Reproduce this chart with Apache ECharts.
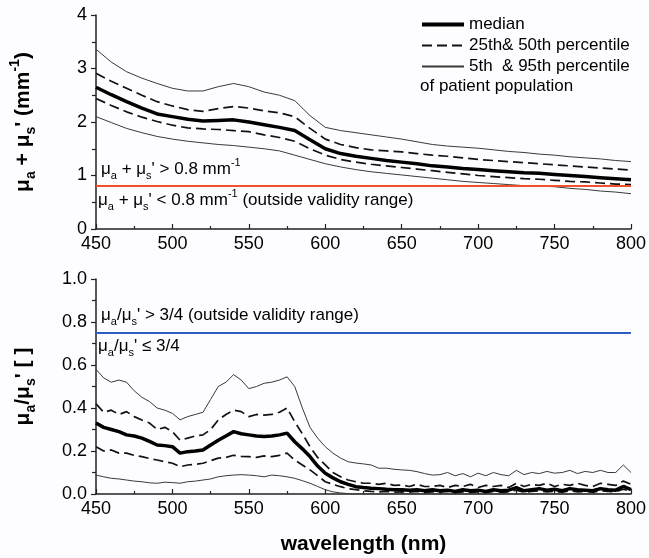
<!DOCTYPE html>
<html>
<head>
<meta charset="utf-8">
<script src="https://cdn.jsdelivr.net/npm/echarts@6/dist/echarts.min.js"></script>
<style>
html, body { margin: 0; padding: 0; background: #fdfdff; }
#main { width: 649px; height: 558px; }
</style>
</head>
<body>
<div id="main"></div>
<script>
// wavelength grids (nm)
var topStart = 450, topStep = 10
var botStart = 450, botStep = 5

// top panel: mu_a + mu_s' (mm^-1), 450..800 every 10 nm
var topP95 = [3.36, 3.12, 2.94, 2.82, 2.72, 2.63, 2.58, 2.58, 2.66, 2.72, 2.66, 2.56, 2.50, 2.40, 2.12, 1.90, 1.84, 1.80, 1.76, 1.72, 1.68, 1.63, 1.58, 1.55, 1.53, 1.51, 1.48, 1.45, 1.43, 1.40, 1.38, 1.35, 1.33, 1.31, 1.28, 1.26]
var topP75 = [2.91, 2.76, 2.63, 2.50, 2.38, 2.30, 2.23, 2.20, 2.25, 2.29, 2.26, 2.21, 2.17, 2.10, 1.88, 1.68, 1.58, 1.52, 1.48, 1.46, 1.44, 1.41, 1.38, 1.36, 1.33, 1.30, 1.28, 1.26, 1.24, 1.22, 1.20, 1.18, 1.16, 1.14, 1.12, 1.10]
var topMed = [2.65, 2.51, 2.38, 2.26, 2.15, 2.10, 2.05, 2.02, 2.03, 2.04, 2.00, 1.95, 1.90, 1.84, 1.67, 1.50, 1.41, 1.36, 1.32, 1.28, 1.25, 1.22, 1.18, 1.16, 1.13, 1.11, 1.09, 1.07, 1.05, 1.04, 1.02, 1.00, 0.98, 0.96, 0.94, 0.92]
var topP25 = [2.44, 2.31, 2.19, 2.09, 2.01, 1.94, 1.89, 1.87, 1.86, 1.84, 1.82, 1.76, 1.71, 1.64, 1.50, 1.38, 1.30, 1.25, 1.21, 1.18, 1.15, 1.12, 1.09, 1.06, 1.03, 1.00, 0.98, 0.96, 0.94, 0.93, 0.91, 0.89, 0.88, 0.86, 0.84, 0.83]
var topP5 = [2.10, 1.99, 1.88, 1.80, 1.73, 1.68, 1.64, 1.61, 1.58, 1.56, 1.53, 1.50, 1.46, 1.38, 1.30, 1.22, 1.16, 1.11, 1.07, 1.04, 1.01, 0.98, 0.95, 0.92, 0.89, 0.87, 0.85, 0.83, 0.81, 0.80, 0.79, 0.76, 0.74, 0.71, 0.69, 0.66]

// bottom panel: mu_a / mu_s', 450..800 every 5 nm
var botP95 = [0.58, 0.54, 0.52, 0.53, 0.52, 0.48, 0.45, 0.43, 0.40, 0.39, 0.375, 0.345, 0.36, 0.37, 0.38, 0.44, 0.50, 0.52, 0.555, 0.53, 0.49, 0.50, 0.515, 0.52, 0.53, 0.545, 0.50, 0.40, 0.31, 0.26, 0.22, 0.19, 0.167, 0.15, 0.144, 0.14, 0.135, 0.12, 0.12, 0.115, 0.112, 0.11, 0.104, 0.095, 0.088, 0.09, 0.10, 0.085, 0.095, 0.08, 0.097, 0.085, 0.10, 0.09, 0.085, 0.11, 0.09, 0.10, 0.095, 0.105, 0.097, 0.10, 0.11, 0.095, 0.105, 0.10, 0.11, 0.10, 0.10, 0.135, 0.10]
var botP75 = [0.42, 0.38, 0.39, 0.37, 0.383, 0.36, 0.344, 0.33, 0.30, 0.31, 0.29, 0.25, 0.26, 0.27, 0.275, 0.30, 0.344, 0.37, 0.39, 0.383, 0.36, 0.37, 0.367, 0.37, 0.38, 0.40, 0.336, 0.28, 0.22, 0.17, 0.135, 0.10, 0.08, 0.065, 0.057, 0.05, 0.05, 0.045, 0.05, 0.04, 0.042, 0.035, 0.045, 0.035, 0.035, 0.04, 0.03, 0.04, 0.035, 0.045, 0.03, 0.04, 0.035, 0.04, 0.03, 0.05, 0.035, 0.045, 0.04, 0.05, 0.035, 0.045, 0.04, 0.05, 0.04, 0.035, 0.05, 0.045, 0.04, 0.06, 0.045]
var botMed = [0.33, 0.31, 0.30, 0.29, 0.275, 0.27, 0.26, 0.245, 0.228, 0.225, 0.22, 0.19, 0.197, 0.20, 0.205, 0.228, 0.25, 0.27, 0.29, 0.28, 0.275, 0.27, 0.267, 0.27, 0.275, 0.283, 0.243, 0.21, 0.174, 0.13, 0.096, 0.075, 0.057, 0.045, 0.034, 0.03, 0.027, 0.025, 0.022, 0.02, 0.02, 0.018, 0.02, 0.015, 0.02, 0.015, 0.018, 0.012, 0.02, 0.015, 0.018, 0.012, 0.02, 0.015, 0.018, 0.03, 0.015, 0.02, 0.025, 0.018, 0.022, 0.015, 0.025, 0.02, 0.018, 0.015, 0.025, 0.02, 0.018, 0.035, 0.02]
var botP25 = [0.22, 0.20, 0.205, 0.19, 0.19, 0.18, 0.174, 0.165, 0.158, 0.15, 0.143, 0.127, 0.135, 0.138, 0.143, 0.155, 0.167, 0.17, 0.18, 0.175, 0.174, 0.17, 0.177, 0.174, 0.18, 0.19, 0.158, 0.135, 0.112, 0.085, 0.057, 0.045, 0.034, 0.025, 0.02, 0.015, 0.012, 0.01, 0.012, 0.008, 0.01, 0.008, 0.012, 0.006, 0.01, 0.008, 0.012, 0.006, 0.01, 0.008, 0.01, 0.006, 0.012, 0.008, 0.01, 0.018, 0.008, 0.012, 0.015, 0.01, 0.012, 0.008, 0.015, 0.01, 0.012, 0.008, 0.015, 0.012, 0.01, 0.022, 0.012]
var botP5 = [0.088, 0.08, 0.073, 0.07, 0.065, 0.06, 0.057, 0.052, 0.05, 0.055, 0.053, 0.05, 0.057, 0.06, 0.065, 0.07, 0.08, 0.085, 0.088, 0.09, 0.088, 0.085, 0.08, 0.088, 0.085, 0.08, 0.073, 0.062, 0.05, 0.035, 0.02, 0.01, 0.005, 0.002, 0, 0, 0, 0, 0, 0, 0, 0, 0, 0, 0, 0, 0, 0, 0, 0, 0, 0, 0, 0, 0, 0, 0, 0, 0, 0, 0, 0, 0, 0, 0, 0, 0, 0, 0, 0, 0]

// thresholds
var topLimit = 0.8
var botLimit = 0.75

var legendNames = ['median', '25th& 50th percentile', '5th  & 95th percentile']

function pairs (start, step, vals) {
  return vals.map(function (v, i) { return [start + i * step, v] })
}

var subRich = {
  s: { fontSize: 11, verticalAlign: 'bottom', lineHeight: 11, color: '#000' },
  p: { fontSize: 11, verticalAlign: 'top', lineHeight: 11, color: '#000' }
}
var subRichBold = {
  s: { fontSize: 14, fontWeight: 'bold', verticalAlign: 'bottom', lineHeight: 14, color: '#000' },
  p: { fontSize: 14, fontWeight: 'bold', verticalAlign: 'top', lineHeight: 14, color: '#000' }
}

var FONT = 'Liberation Sans, Arial, sans-serif'

function makeSeries (idx, start, step, p95, p75, med, p25, p5, limit, color, txtAbove, txtBelow) {
  var thin = { color: '#3a3a3a', width: 1 }
  var dash = { color: '#111', width: 1.7, type: [10, 5] }
  var common = { type: 'line', xAxisIndex: idx, yAxisIndex: idx, symbol: 'none', animation: false, silent: true }
  return [
    Object.assign({}, common, { name: legendNames[2], data: pairs(start, step, p95), lineStyle: thin, itemStyle: { color: '#3a3a3a' } }),
    Object.assign({}, common, { name: legendNames[1], data: pairs(start, step, p75), lineStyle: dash, itemStyle: { color: '#111' } }),
    Object.assign({}, common, { name: legendNames[1], data: pairs(start, step, p25), lineStyle: dash, itemStyle: { color: '#111' } }),
    Object.assign({}, common, { name: legendNames[2], data: pairs(start, step, p5), lineStyle: thin, itemStyle: { color: '#3a3a3a' } }),
    Object.assign({}, common, {
      name: legendNames[0],
      data: pairs(start, step, med),
      lineStyle: { color: '#000', width: 3.5 },
      itemStyle: { color: '#000' },
      z: 3,
      markLine: {
        symbol: 'none',
        silent: true,
        animation: false,
        lineStyle: { color: color, width: 2.2, type: 'solid' },
        label: { color: '#000', fontSize: 17, fontFamily: FONT, lineHeight: 24, rich: subRich },
        data: [
          { yAxis: limit, label: { position: 'insideStartTop', distance: 5, formatter: txtAbove } },
          { yAxis: limit, label: { position: 'insideStartBottom', distance: 2, formatter: txtBelow } }
        ]
      }
    })
  ]
}

var chartDom = document.getElementById('main')
var myChart = echarts.init(chartDom)

var axisLine = { show: true, lineStyle: { color: '#222', width: 1.5 } }
var axisLabel = { color: '#000', fontSize: 18, fontFamily: FONT }

var xAxisBase = {
  type: 'value', min: 450, max: 800, interval: 50,
  axisLine: axisLine,
  axisTick: { show: true, inside: true, length: 5, lineStyle: { color: '#222', width: 1.2 } },
  minorTick: { show: true, splitNumber: 2, length: 3, lineStyle: { color: '#222', width: 1.2 } },
  splitLine: { show: false },
  axisLabel: Object.assign({ margin: 6 }, axisLabel)
}

var option = {
  backgroundColor: '#fdfdff',
  animation: false,
  textStyle: { fontFamily: FONT },
  grid: [
    { left: 95, right: 17, top: 15, height: 214 },
    { left: 95, right: 17, top: 279, height: 215 }
  ],
  legend: {
    data: [
      { name: legendNames[0], lineStyle: { width: 4 } },
      { name: legendNames[1] },
      { name: legendNames[2] }
    ],
    orient: 'vertical',
    left: 415,
    top: 11,
    itemWidth: 42,
    itemHeight: 16,
    itemGap: 4,
    itemStyle: { opacity: 0 },
    textStyle: { color: '#000', fontSize: 17, fontFamily: FONT },
    selectedMode: false
  },
  graphic: [
    { type: 'text', left: 420, top: 78, style: { text: 'of patient population', fill: '#000', fontSize: 17, fontFamily: FONT } }
  ],
  xAxis: [
    Object.assign({ gridIndex: 0 }, xAxisBase),
    Object.assign({ gridIndex: 1 }, xAxisBase, {
      name: 'wavelength (nm)', nameLocation: 'middle', nameGap: 40,
      nameTextStyle: { color: '#000', fontSize: 21, fontWeight: 'bold', fontFamily: FONT }
    })
  ],
  yAxis: [
    {
      gridIndex: 0, type: 'value', min: 0, max: 4, interval: 1,
      axisLine: axisLine,
      axisTick: { show: true, inside: false, length: 5, lineStyle: { color: '#222', width: 1.2 } },
      minorTick: { show: true, splitNumber: 2, length: 4, lineStyle: { color: '#222', width: 1.2 } },
      splitLine: { show: false },
      axisLabel: Object.assign({ margin: 9 }, axisLabel),
      name: 'μ{s|a} + μ{s|s}\' (mm{p|-1})',
      nameLocation: 'middle', nameRotate: 90, nameGap: 58,
      nameTextStyle: { color: '#000', fontSize: 21, fontWeight: 'bold', fontFamily: FONT, lineHeight: 30, rich: subRichBold }
    },
    {
      gridIndex: 1, type: 'value', min: 0, max: 1, interval: 0.2,
      axisLine: axisLine,
      axisTick: { show: true, inside: false, length: 5, lineStyle: { color: '#222', width: 1.2 } },
      minorTick: { show: true, splitNumber: 2, length: 4, lineStyle: { color: '#222', width: 1.2 } },
      splitLine: { show: false },
      axisLabel: Object.assign({ margin: 9, formatter: function (v) { return v.toFixed(1) } }, axisLabel),
      name: 'μ{s|a}/μ{s|s}\' [ ]',
      nameLocation: 'middle', nameRotate: 90, nameGap: 58,
      nameTextStyle: { color: '#000', fontSize: 21, fontWeight: 'bold', fontFamily: FONT, lineHeight: 30, rich: subRichBold }
    }
  ],
  series: [].concat(
    makeSeries(0, topStart, topStep, topP95, topP75, topMed, topP25, topP5, topLimit, '#f0502c',
      'μ{s|a} + μ{s|s}\' > 0.8 mm{p|-1}',
      'μ{s|a} + μ{s|s}\' < 0.8 mm{p|-1} (outside validity range)'),
    makeSeries(1, botStart, botStep, botP95, botP75, botMed, botP25, botP5, botLimit, '#2c5cc4',
      'μ{s|a}/μ{s|s}\' > 3/4 (outside validity range)',
      'μ{s|a}/μ{s|s}\' ≤ 3/4')
  )
}

myChart.setOption(option)
</script>
</body>
</html>
